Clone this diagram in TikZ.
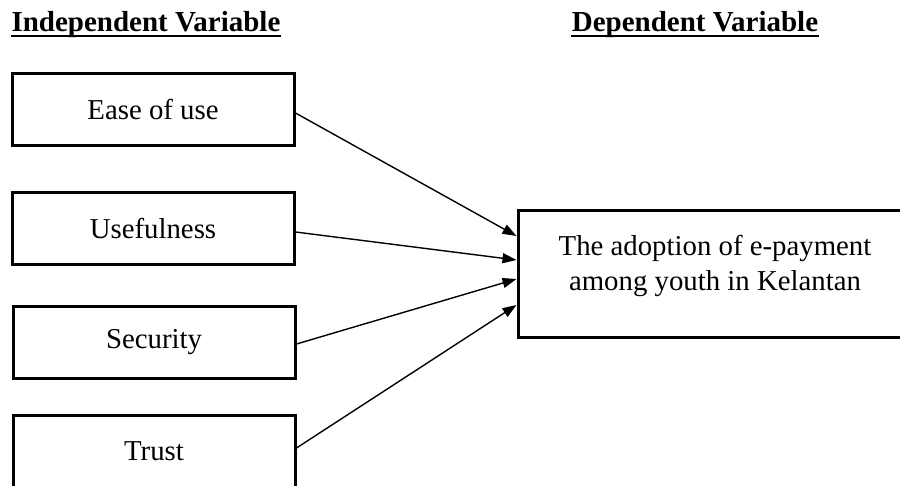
\documentclass[tikz,border=0pt]{standalone}
\usepackage{fontspec}
\setmainfont{Liberation Serif}
\usetikzlibrary{arrows.meta, calc, positioning}
\tikzstyle{var} = [draw, line width=1.5pt, minimum width=141pt, minimum height=36pt, align=center]
\tikzstyle{link} = [-{Triangle[length=7pt, width=5pt]}, line width=0.7pt]
\tikzstyle{heading} = [font=\fontsize{14.5}{18}\selectfont\bfseries, anchor=base, inner xsep=0pt]
\tikzstyle{rule} = [line width=0.9pt]

\begin{document}
\begin{tikzpicture}[x=0.5pt, y=-0.5pt, font=\fontsize{14.4}{17.5}\selectfont]
  \useasboundingbox (0,0) rectangle (900,486);
  \clip (0,0) rectangle (900,486);

  \node[heading] (IV) at (146,32) {Independent Variable};
  \node[heading] (DV) at (695,32) {Dependent Variable};
  \draw[rule] ([yshift=-2.2pt]IV.base west) -- ([yshift=-2.2pt]IV.base east);
  \draw[rule] ([yshift=-2.2pt]DV.base west) -- ([yshift=-2.2pt]DV.base east);

  \node[var] (EU) at (153,109.5) {Ease of use};
  \node[var] (UF) at (153,228.5) {Usefulness};
  \node[var] (SC) at (154,342.5) {Security};
  \node[var] (TR) at (154,451.5) {Trust};

  \node[var, minimum width=192pt, minimum height=63.5pt] (AD) at (710,274.5) {};
  \node[align=center] (ADtext) at (715,266) {The adoption of e-payment\\among youth in Kelantan};

  \draw[link] ($(EU.east)+(0,3.5)$) -- ($(AD.west)+(0,-38.5)$);
  \draw[link] ($(UF.east)+(0,3.5)$) -- ($(AD.west)+(0,-14.5)$);
  \draw[link] ($(SC.east)+(0,1.5)$) -- ($(AD.west)+(0,4.5)$);
  \draw[link] ($(TR.east)+(0,-3.5)$) -- ($(AD.west)+(0,30.5)$);

\end{tikzpicture}
\end{document}
